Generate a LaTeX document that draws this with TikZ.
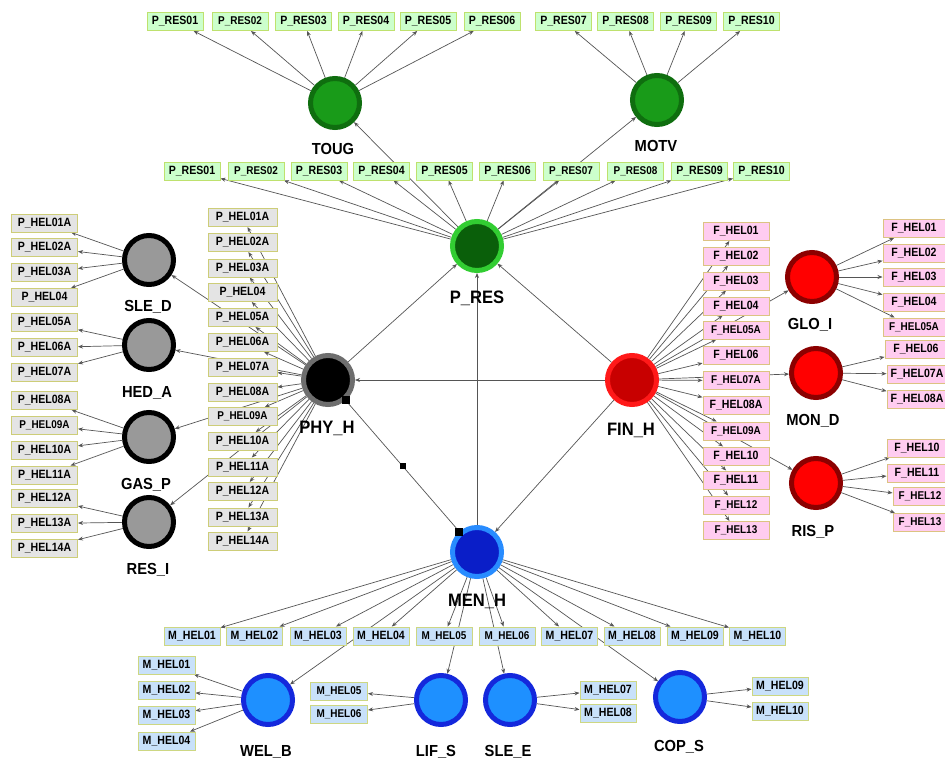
\documentclass[tikz,border=0pt]{standalone}
\usepackage{fontspec}
\setmainfont{Liberation Sans}
\newfontfamily\boxfont[FakeStretch=0.88]{Liberation Sans}
\newfontfamily\labfont[FakeStretch=0.92]{Liberation Sans}
\usetikzlibrary{arrows.meta,backgrounds}
\definecolor{gfill}{RGB}{204,255,204}
\definecolor{gline}{RGB}{190,225,110}
\definecolor{hfill}{RGB}{228,228,228}
\definecolor{hline}{RGB}{205,205,120}
\definecolor{pfill}{RGB}{255,204,240}
\definecolor{pline}{RGB}{220,195,130}
\definecolor{bfill}{RGB}{200,225,250}
\definecolor{bline}{RGB}{205,215,130}
\definecolor{edgec}{RGB}{85,85,85}
\definecolor{tgring}{RGB}{15,110,15}
\definecolor{tgfill}{RGB}{25,155,25}
\definecolor{prring}{RGB}{50,205,50}
\definecolor{prfill}{RGB}{10,95,10}
\definecolor{phring}{RGB}{110,110,110}
\definecolor{gyfill}{RGB}{153,153,153}
\definecolor{fnring}{RGB}{255,25,25}
\definecolor{fnfill}{RGB}{200,0,0}
\definecolor{rdring}{RGB}{140,0,0}
\definecolor{rdfill}{RGB}{255,0,0}
\definecolor{mnring}{RGB}{40,140,255}
\definecolor{mnfill}{RGB}{10,30,200}
\definecolor{blring}{RGB}{20,40,220}
\definecolor{blfill}{RGB}{30,144,255}
\tikzset{
  x=1pt, y=-1pt,
  box/.style={draw, line width=1pt, minimum height=18pt, inner sep=0pt, outer sep=0.5pt,
    font=\boxfont\bfseries\fontsize{12}{13}\selectfont},
  reg/.style={},
  lite/.style={font=\boxfont\bfseries\fontsize{11.3}{12}\selectfont},
  gbox/.style={box, fill=gfill, draw=gline, minimum width=56pt},
  hbox/.style={box, fill=hfill, draw=hline, minimum width=66pt},
  pbox/.style={box, fill=pfill, draw=pline, minimum width=66pt},
  bbox/.style={box, fill=bfill, draw=bline, minimum width=56pt},
  hub/.style={circle, line width=5pt, minimum size=49pt, inner sep=0pt, outer sep=2.5pt},
  lab/.style={font=\labfont\bfseries\fontsize{16}{17}\selectfont},
  biglab/.style={font=\labfont\bfseries\fontsize{18}{19}\selectfont},
  arr/.style={draw=edgec, line width=0.7pt, -{Stealth[length=5pt,width=4pt]}},
  link/.style={draw=edgec, line width=0.7pt},
  sqbig/.style={fill=black, minimum size=8pt, inner sep=0pt},
  sqsmall/.style={fill=black, minimum size=6pt, inner sep=0pt},
}
\begin{document}
\begin{tikzpicture}
\useasboundingbox (0,0) rectangle (945,763);

% ---------- hubs ----------
\node[hub, draw=tgring, fill=tgfill] (toug) at (335,103) {};
\node[hub, draw=tgring, fill=tgfill] (motv) at (657,100) {};
\node[hub, draw=prring, fill=prfill] (pres) at (477,246) {};
\node[hub, draw=phring, fill=black] (phy) at (328,380) {};
\node[hub, draw=fnring, fill=fnfill] (fin) at (632,380) {};
\node[hub, draw=mnring, fill=mnfill] (men) at (477,552) {};
\node[hub, draw=black, fill=gyfill] (sled) at (149,260) {};
\node[hub, draw=black, fill=gyfill] (heda) at (149,345) {};
\node[hub, draw=black, fill=gyfill] (gasp) at (149,437) {};
\node[hub, draw=black, fill=gyfill] (resi) at (149,522) {};
\node[hub, draw=rdring, fill=rdfill] (gloi) at (812,277) {};
\node[hub, draw=rdring, fill=rdfill] (mond) at (816,373) {};
\node[hub, draw=rdring, fill=rdfill] (risp) at (816,483) {};
\node[hub, draw=blring, fill=blfill] (welb) at (268,700) {};
\node[hub, draw=blring, fill=blfill] (lifs) at (441,700) {};
\node[hub, draw=blring, fill=blfill] (slee) at (510,700) {};
\node[hub, draw=blring, fill=blfill] (cops) at (680,697) {};

% ---------- hub labels ----------
\node[lab] (ltoug) at (333,149) {TOUG};
\node[lab] (lmotv) at (656,146) {MOTV};
\node[biglab] (lpres) at (477,298) {P\_RES};
\node[biglab] (lphy) at (327,428) {PHY\_H};
\node[biglab] (lfin) at (631,430) {FIN\_H};
\node[biglab] (lmen) at (477,601) {MEN\_H};
\node[lab] (lsled) at (148,307) {SLE\_D};
\node[lab] (lheda) at (147,393) {HED\_A};
\node[lab] (lgasp) at (146,485) {GAS\_P};
\node[lab] (lresi) at (148,570) {RES\_I};
\node[lab] (lgloi) at (810,325) {GLO\_I};
\node[lab] (lmond) at (813,421) {MON\_D};
\node[lab] (lrisp) at (813,532) {RIS\_P};
\node[lab] (lwelb) at (266,752) {WEL\_B};
\node[lab] (llifs) at (436,752) {LIF\_S};
\node[lab] (lslee) at (508,752) {SLE\_E};
\node[lab] (lcops) at (679,747) {COP\_S};

% ---------- boxes ----------
\foreach \n/\x/\s in {01/175/reg,02/240/lite,03/303.5/reg,04/366/reg,05/428/reg,06/492/reg,07/563.5/reg,08/625.5/reg,09/688.5/reg,10/751.5/reg}
  \node[gbox,\s] (t\n) at (\x,21.5) {P\_RES\n};
\foreach \n/\x/\s in {01/192/reg,02/256/lite,03/319/reg,04/381.5/reg,05/444.5/reg,06/507.5/reg,07/571/lite,08/635.5/lite,09/699.5/reg,10/761.5/reg}
  \node[gbox,\s] (m\n) at (\x,171) {P\_RES\n};
\foreach \n/\y/\s in {01A/223/reg,02A/247.5/reg,03A/272.5/reg,04/297.5/reg,05A/322.5/reg,06A/347.5/reg,07A/372.5/reg,08A/400.5/reg,09A/425/lite,10A/450/reg,11A/475/reg,12A/498.5/reg,13A/523.5/reg,14A/548/reg}
  \node[hbox,\s] (l\n) at (44.5,\y) {P\_HEL\n};
\foreach \n/\y/\s in {01A/217.5/reg,02A/242.5/reg,03A/268/reg,04/292.5/reg,05A/317.5/reg,06A/342.5/reg,07A/367.5/reg,08A/392/reg,09A/416.5/lite,10A/441.5/reg,11A/467/reg,12A/491.5/reg,13A/517/reg,14A/541/reg}
  \node[hbox,\s,minimum width=69pt] (g\n) at (242.5,\y) {P\_HEL\n};
\foreach \n/\y/\s in {01/231.5/reg,02/256/reg,03/281/reg,04/306/reg,05A/330/lite,06/355/reg,07A/380.5/lite,08A/405.5/reg,09A/431/lite,10/456/reg,11/480/reg,12/505/lite,13/530.5/lite}
  \node[pbox,\s] (f\n) at (736,\y) {F\_HEL\n};
\foreach \n/\x/\y/\w/\s in {01/914/228.5/62/reg,02/914/253.5/62/reg,03/914/277/62/reg,04/914/302.5/62/reg,05A/914/327/62/lite,06/916/349.5/62/reg,07A/917/374/60/reg,08A/917/399/60/reg,10/917/448/60/reg,11/917/473/60/reg,12/920/496.5/54/lite,13/920/522.5/54/lite}
  \node[pbox,\s,minimum width=\w pt] (r\n) at (\x,\y) {F\_HEL\n};
\foreach \n/\x/\s in {01/192/reg,02/254.5/reg,03/318/reg,04/381/reg,05/444/lite,06/507/lite,07/569.5/reg,08/632/reg,09/695/reg,10/757.5/reg}
  \node[bbox,\s] (b\n) at (\x,636) {M\_HEL\n};
\foreach \n/\y in {01/665,02/690,03/715,04/741}
  \node[bbox,minimum width=57pt] (w\n) at (166.5,\y) {M\_HEL\n};
\node[bbox,lite,minimum width=57pt] (s05) at (339,691) {M\_HEL05};
\node[bbox,lite,minimum width=57pt] (s06) at (339,714) {M\_HEL06};
\node[bbox,minimum width=56pt] (s07) at (608,690) {M\_HEL07};
\node[bbox,minimum width=56pt] (s08) at (608,713.5) {M\_HEL08};
\node[bbox,minimum width=56pt] (s09) at (780,686) {M\_HEL09};
\node[bbox,minimum width=56pt] (s10) at (780,711) {M\_HEL10};

% ---------- connectors (under the nodes) ----------
\begin{scope}[on background layer]
\fill[white] (0,0) rectangle (945,763);
\foreach \n in {01,02,03,04,05,06} \draw[arr] (toug) -- (t\n);
\foreach \n in {07,08,09,10} \draw[arr] (motv) -- (t\n);
\foreach \n in {01,02,03,04,05,06,07,08,09,10} \draw[arr] (pres) -- (m\n);
\draw[arr] (pres) -- (toug);
\draw[arr] (pres) -- (motv);
\draw[arr] (phy) -- (pres);
\draw[arr] (fin) -- (pres);
\draw[arr] (men) -- (pres);
\draw[arr] (fin) -- (phy);
\draw[arr] (fin) -- (men);
\draw[link] (phy) -- (men);
\foreach \n in {01A,02A,03A,04,05A,06A,07A,08A,09A,10A,11A,12A,13A,14A} \draw[arr] (phy) -- (g\n);
\draw[arr] (phy) -- (sled);
\draw[arr] (phy) -- (heda);
\draw[arr] (phy) -- (gasp);
\draw[arr] (phy) -- (resi);
\foreach \n in {01A,02A,03A,04} \draw[arr] (sled) -- (l\n);
\foreach \n in {05A,06A,07A} \draw[arr] (heda) -- (l\n);
\foreach \n in {08A,09A,10A,11A} \draw[arr] (gasp) -- (l\n);
\foreach \n in {12A,13A,14A} \draw[arr] (resi) -- (l\n);
\foreach \n in {01,02,03,04,05A,06,07A,08A,09A,10,11,12,13} \draw[arr] (fin) -- (f\n);
\draw[arr] (fin) -- (gloi);
\draw[arr] (fin) -- (mond);
\draw[arr] (fin) -- (risp);
\foreach \n in {01,02,03,04,05A} \draw[arr] (gloi) -- (r\n);
\foreach \n in {06,07A,08A} \draw[arr] (mond) -- (r\n);
\foreach \n in {10,11,12,13} \draw[arr] (risp) -- (r\n);
\foreach \n in {01,02,03,04,05,06,07,08,09,10} \draw[arr] (men) -- (b\n);
\draw[arr] (men) -- (welb);
\draw[arr] (men) -- (lifs);
\draw[arr] (men) -- (slee);
\draw[arr] (men) -- (cops);
\foreach \n in {01,02,03,04} \draw[arr] (welb) -- (w\n);
\draw[arr] (lifs) -- (s05);
\draw[arr] (lifs) -- (s06);
\draw[arr] (slee) -- (s07);
\draw[arr] (slee) -- (s08);
\draw[arr] (cops) -- (s09);
\draw[arr] (cops) -- (s10);
\end{scope}

% ---------- square markers on PHY_H -- MEN_H ----------
\path (phy) -- (men)
  node[sqbig, pos=0] (mka) {}
  node[sqsmall, pos=0.5] (mkb) {}
  node[sqbig, pos=1] (mkc) {};
\end{tikzpicture}
\end{document}
